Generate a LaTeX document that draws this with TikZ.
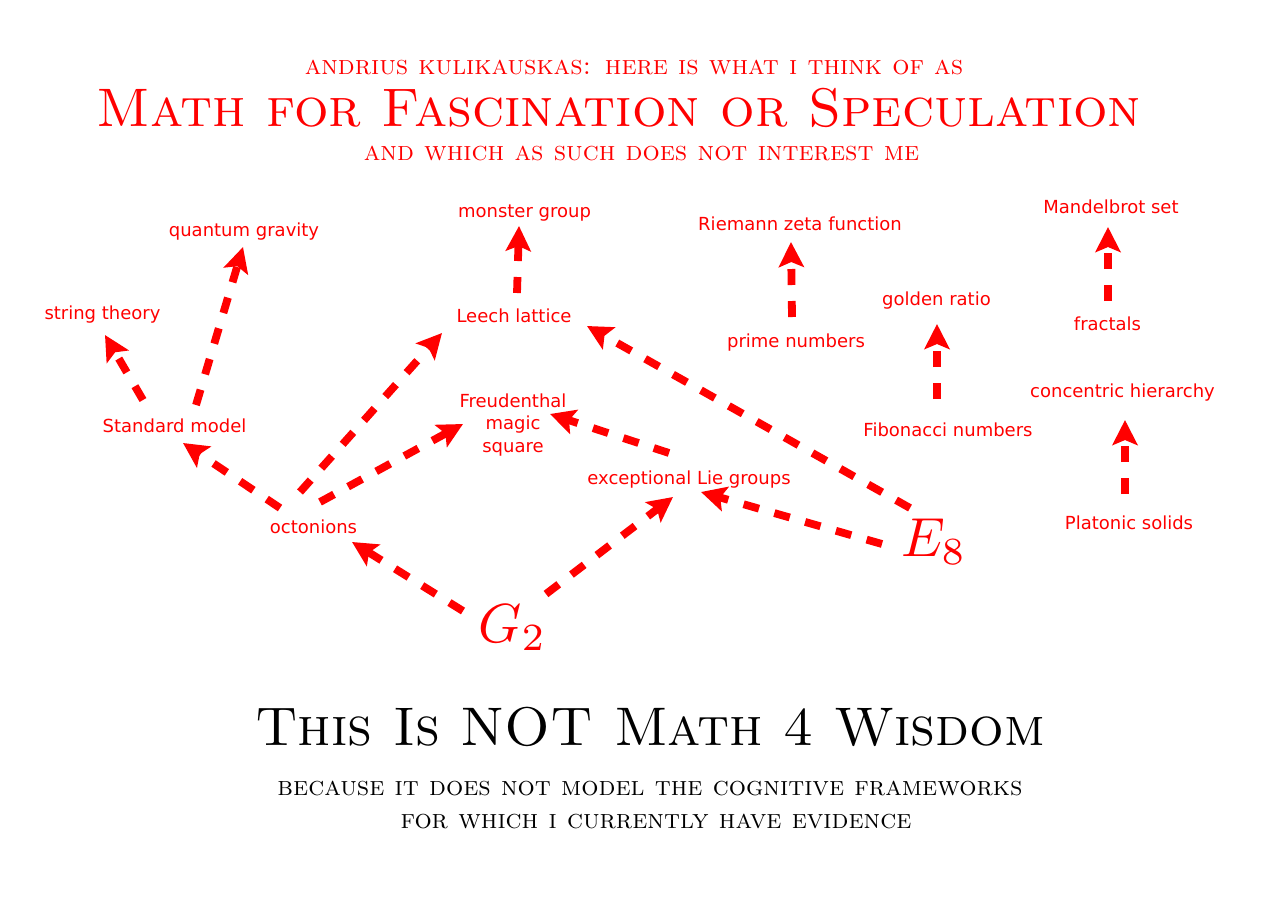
\documentclass[tikz,border=0pt]{standalone}
\usepackage{fontspec}
\newfontfamily\dvs{DejaVu Sans}
\usetikzlibrary{arrows.meta}
\tikzset{
  lbl/.style={font=\dvs\fontsize{18}{22.5}\selectfont, text=red, inner sep=0pt, anchor=base},
  big/.style={font=\fontsize{10}{12}\selectfont, text=red, inner sep=0pt, anchor=base},
  sctitle/.style={inner sep=0pt, anchor=base},
  arr/.style={draw=red, line width=7.8pt, dash pattern=on 16pt off 16pt,
    -{Stealth[length=25pt,width=25pt,inset=5pt]}}
}
\begin{document}
\begin{tikzpicture}[x=1pt,y=-1pt]
\fill[white] (0,0) rectangle (1273,900);
\useasboundingbox (0,0) rectangle (1273,900);
% titles
\node[sctitle, text=red, font=\fontsize{27.05}{30}\selectfont\scshape] (t1) at (634,74) {andrius kulikauskas: here is what i think of as};
\node[sctitle, text=red, font=\fontsize{54.3}{60}\selectfont\scshape] (t2) at (619,126) {Math for Fascination or Speculation};
\node[sctitle, text=red, font=\fontsize{27.1}{30}\selectfont\scshape] (t3) at (641.5,160) {and which as such does not interest me};
\node[sctitle, text=black, font=\fontsize{54.4}{60}\selectfont\scshape] (b1) at (650,745) {This Is NOT Math 4 Wisdom};
\node[sctitle, text=black, font=\fontsize{27.1}{30}\selectfont\scshape] (b2) at (650,795) {because it does not model the cognitive frameworks};
\node[sctitle, text=black, font=\fontsize{27.1}{30}\selectfont\scshape] (b3) at (656,828) {for which i currently have evidence};
% labels
\node[lbl] (qg) at (244,236) {quantum gravity};
\node[lbl] (str) at (102.5,319) {string theory};
\node[lbl] (mon) at (524.5,217) {monster group};
\node[lbl] (rie) at (800,230) {Riemann zeta function};
\node[lbl] (man) at (1111,213) {Mandelbrot set};
\node[lbl] (gold) at (936.5,305) {golden ratio};
\node[lbl] (lee) at (514,322) {Leech lattice};
\node[lbl] (pri) at (796,347) {prime numbers};
\node[lbl] (fra) at (1107.5,330) {fractals};
\node[lbl] (con) at (1122.5,397) {concentric hierarchy};
\node[lbl] (std) at (174.5,432) {Standard model};
\node[lbl, align=center] (fre) at (513,452) {Freudenthal\\magic\\square};
\node[lbl] (fib) at (948,436) {Fibonacci numbers};
\node[lbl] (elg) at (689,484) {exceptional Lie groups};
\node[lbl] (oct) at (313.5,533) {octonions};
\node[lbl] (pla) at (1129,529) {Platonic solids};
\node[big] (e8) at (934,556) {\scalebox{5.5}{$E_8$}};
\node[big] (g2) at (512.5,642) {\scalebox{5.5}{$G_2$}};
% arrows
\draw[arr] ([shift={(-31.5,-32)}]std.base) -- ([shift={(2.5,16)}]str.base);
\draw[arr] ([shift={(21.5,-27)}]std.base) -- ([shift={(-1,11)}]qg.base);
\draw[arr] ([shift={(-33.5,-25)}]oct.base) -- ([shift={(8.5,11)}]std.base);
\draw[arr] ([shift={(-13.5,-41)}]oct.base) -- ([shift={(-72,11)}]lee.base);
\draw[arr] ([shift={(6.5,-31)}]oct.base) -- ([shift={(-50,-28)}]fre.base);
\draw[arr] ([shift={(-49.5,-31)}]g2.base) -- ([shift={(38.5,9)}]oct.base);
\draw[arr] ([shift={(33.5,-48)}]g2.base) -- ([shift={(-16,13)}]elg.base);
\draw[arr] ([shift={(-20,-31)}]elg.base) -- ([shift={(37,-38)}]fre.base);
\draw[arr] ([shift={(-52,-12)}]e8.base) -- ([shift={(12,8)}]elg.base);
\draw[arr] ([shift={(-24,-48)}]e8.base) -- ([shift={(73,4)}]lee.base);
\draw[arr] ([shift={(3,-29)}]lee.base) -- ([shift={(-5.5,9)}]mon.base);
\draw[arr] ([shift={(-4,-30)}]pri.base) -- ([shift={(-9,12)}]rie.base);
\draw[arr] ([shift={(-11,-37)}]fib.base) -- ([shift={(0.5,19)}]gold.base);
\draw[arr] ([shift={(0.5,-29)}]fra.base) -- ([shift={(-3,14)}]man.base);
\draw[arr] ([shift={(-4,-35)}]pla.base) -- ([shift={(2.5,23)}]con.base);
\end{tikzpicture}
\end{document}
